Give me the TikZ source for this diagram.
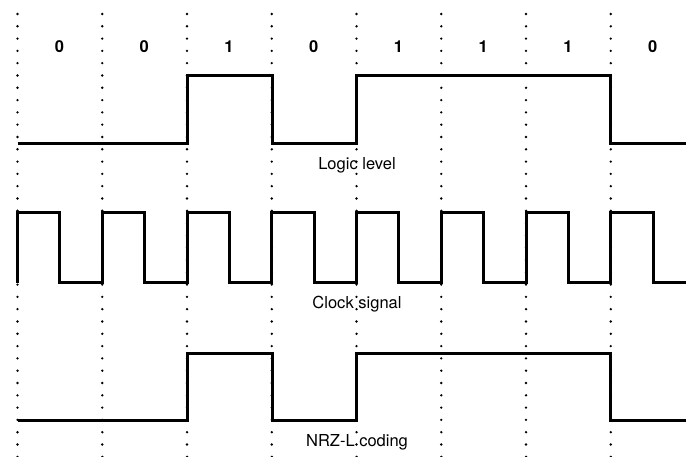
\documentclass[tikz,border=0pt]{standalone}
\usepackage{fontspec}
\setmainfont{TeX Gyre Heros}
\usepackage{tikz}
\usetikzlibrary{calc}

\begin{document}
\begin{tikzpicture}[
  x=1pt, y=-1pt,
  grid/.style={line width=2.6pt, line cap=round, dash pattern=on 0pt off 12.3pt},
  sig/.style={line width=3pt, line join=miter},
  bitlabel/.style={font=\fontsize{16.5}{18}\selectfont\bfseries, inner sep=0pt},
  trace/.style={font=\fontsize{16.5}{18}\selectfont, inner sep=0pt},
]
  \useasboundingbox (0,0) rectangle (686,457);

  % Bit cell boundaries
  \foreach \i in {0,...,7}
    \draw[grid] ({17.5+84.75*\i},14) -- ({17.5+84.75*\i},457);

  % Bit values
  \foreach \i/\b in {0/0,1/0,2/1,3/0,4/1,5/1,6/1,7/0}
    \node[bitlabel] (bit\i) at ({17.5+84.75*\i+42},47) {\b};

  % Logic level
  \draw[sig] (17.5,144) -- (187.25,144) -- (187.25,76) -- (272,76) -- (272,144)
    -- (356.75,144) -- (356.75,76) -- (610.75,76) -- (610.75,144) -- (686,144);
  \node[trace] (logic) at (357,165) {Logic level};

  % Clock signal
  \draw[sig] (17.5,282.7)
    \foreach \i in {0,...,6} { -- ++(0,-70) -- ++(42.375,0) -- ++(0,70) -- ++(42.375,0) }
    -- ++(0,-70) -- ++(42.375,0) -- ++(0,70) -- (686,282.7);
  \node[trace] (clock) at (357,304) {Clock signal};

  % NRZ-L coding
  \draw[sig] (17.5,420) -- (187.25,420) -- (187.25,353) -- (272,353) -- (272,420)
    -- (356.75,420) -- (356.75,353) -- (610.75,353) -- (610.75,420) -- (686,420);
  \node[trace] (nrzl) at (357,442) {NRZ-L coding};

\end{tikzpicture}
\end{document}
